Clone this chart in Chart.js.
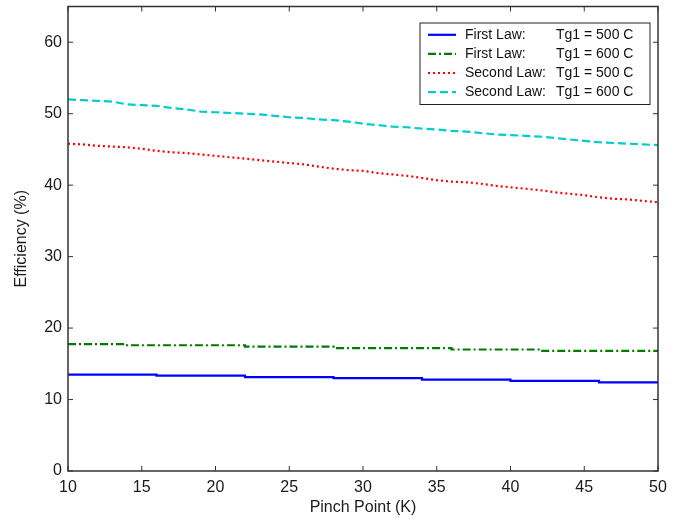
<!DOCTYPE html>
<html lang="en">
<head>
    <meta charset="UTF-8">
    <title>Efficiency vs Pinch Point</title>
    <script src="https://cdn.jsdelivr.net/npm/chart.js"></script>
    <style>
        html, body { margin: 0; padding: 0; background: #fff; }
    </style>
</head>
<body>
    <canvas id="effChart" width="681" height="521"></canvas>

    <script>
        // pinch point (K)
        const pinchPoint = [10, 11, 12, 13, 14, 15, 16, 17, 18, 19, 20, 21, 22, 23, 24, 25, 26, 27, 28, 29, 30,
                            31, 32, 33, 34, 35, 36, 37, 38, 39, 40, 41, 42, 43, 44, 45, 46, 47, 48, 49, 50];

        // efficiency (%) for each series
        const firstLaw500 = [13.5, 13.5, 13.5, 13.5, 13.5, 13.5, 13.35, 13.35, 13.35, 13.35, 13.35, 13.35,
                             13.15, 13.15, 13.15, 13.15, 13.15, 13.15, 13.0, 13.0, 13.0, 13.0, 13.0, 13.0,
                             12.8, 12.8, 12.8, 12.8, 12.8, 12.8, 12.6, 12.6, 12.6, 12.6, 12.6, 12.6,
                             12.4, 12.4, 12.4, 12.4, 12.4];
        const firstLaw600 = [17.75, 17.75, 17.75, 17.75, 17.6, 17.6, 17.6, 17.6, 17.6, 17.6, 17.6, 17.6,
                             17.4, 17.4, 17.4, 17.4, 17.4, 17.4, 17.2, 17.2, 17.2, 17.2, 17.2, 17.2, 17.2, 17.2,
                             17.0, 17.0, 17.0, 17.0, 17.0, 17.0, 16.8, 16.8, 16.8, 16.8, 16.8, 16.8, 16.8, 16.8, 16.8];
        const secondLaw500 = [45.8, 45.7, 45.5, 45.4, 45.3, 45.1, 44.8, 44.6, 44.5, 44.3, 44.1, 43.9, 43.7, 43.5,
                              43.3, 43.1, 42.9, 42.6, 42.3, 42.1, 42.0, 41.7, 41.5, 41.3, 41.0, 40.7, 40.5, 40.4,
                              40.2, 39.9, 39.7, 39.5, 39.3, 39.0, 38.8, 38.6, 38.3, 38.1, 38.0, 37.8, 37.6];
        const secondLaw600 = [52.0, 51.9, 51.8, 51.7, 51.3, 51.2, 51.1, 50.8, 50.6, 50.3, 50.2, 50.1, 50.0, 49.9,
                              49.7, 49.5, 49.4, 49.2, 49.1, 48.9, 48.6, 48.4, 48.2, 48.1, 47.9, 47.8, 47.6, 47.5,
                              47.3, 47.1, 47.0, 46.9, 46.8, 46.6, 46.4, 46.2, 46.0, 45.9, 45.8, 45.7, 45.6];

        const xTicks = [10, 15, 20, 25, 30, 35, 40, 45, 50];
        const yTicks = [0, 10, 20, 30, 40, 50, 60];

        const legendLeft = ['First Law:', 'First Law:', 'Second Law:', 'Second Law:'];
        const legendRight = ['Tg1 = 500 C', 'Tg1 = 600 C', 'Tg1 = 500 C', 'Tg1 = 600 C'];

        const fontFamily = '"Liberation Sans", Arial, sans-serif';

        function toPoints(ys) {
            return ys.map(function(y, i) { return { x: pinchPoint[i], y: y }; });
        }

        // box around the plot + inward tick marks (matlab style)
        const frameTicks = {
            id: 'frameTicks',
            afterDraw(chart) {
                const ctx = chart.ctx;
                const a = chart.chartArea;
                const xs = chart.scales.x, ys = chart.scales.y;
                const len = 5;
                ctx.save();
                ctx.strokeStyle = '#333';
                ctx.lineWidth = 1.5;
                ctx.strokeRect(a.left, a.top, a.right - a.left, a.bottom - a.top);
                ctx.lineWidth = 1;
                ctx.beginPath();
                xTicks.forEach(function(v) {
                    const px = xs.getPixelForValue(v);
                    ctx.moveTo(px, a.bottom); ctx.lineTo(px, a.bottom - len);
                    ctx.moveTo(px, a.top); ctx.lineTo(px, a.top + len);
                });
                yTicks.forEach(function(v) {
                    const py = ys.getPixelForValue(v);
                    ctx.moveTo(a.left, py); ctx.lineTo(a.left + len, py);
                    ctx.moveTo(a.right, py); ctx.lineTo(a.right - len, py);
                });
                ctx.stroke();
                ctx.restore();
            }
        };

        // legend inside the plot, upper right
        const insideLegend = {
            id: 'insideLegend',
            afterDraw(chart) {
                const ctx = chart.ctx;
                const a = chart.chartArea;
                const right = a.right - 8, top = a.top + 16.5;
                const w = 230, h = 81.5;
                const left = right - w;
                ctx.save();
                ctx.fillStyle = '#fff';
                ctx.fillRect(left, top, w, h);
                ctx.strokeStyle = '#222';
                ctx.lineWidth = 1;
                ctx.strokeRect(left, top, w, h);
                ctx.font = '14px ' + fontFamily;
                ctx.textBaseline = 'middle';
                ctx.fillStyle = '#111';
                chart.data.datasets.forEach(function(ds, i) {
                    const cy = top + 11.8 + i * 19.1;
                    ctx.save();
                    ctx.strokeStyle = ds.borderColor;
                    ctx.lineWidth = ds.borderWidth;
                    ctx.setLineDash(ds.borderDash || []);
                    ctx.beginPath();
                    ctx.moveTo(left + 8, cy);
                    ctx.lineTo(left + 36, cy);
                    ctx.stroke();
                    ctx.restore();
                    ctx.fillText(legendLeft[i], left + 45, cy);
                    ctx.fillText(legendRight[i], left + 136, cy);
                });
                ctx.restore();
            }
        };

        const data = {
            datasets: [
                {
                    label: 'First Law: Tg1 = 500 C',
                    data: toPoints(firstLaw500),
                    borderColor: '#0000ff',
                    borderWidth: 2.2,
                    stepped: 'before'
                },
                {
                    label: 'First Law: Tg1 = 600 C',
                    data: toPoints(firstLaw600),
                    borderColor: '#007a00',
                    borderWidth: 2.2,
                    borderDash: [8, 3, 2, 3],
                    stepped: 'before'
                },
                {
                    label: 'Second Law: Tg1 = 500 C',
                    data: toPoints(secondLaw500),
                    borderColor: '#ff0000',
                    borderWidth: 2.2,
                    borderDash: [2, 3]
                },
                {
                    label: 'Second Law: Tg1 = 600 C',
                    data: toPoints(secondLaw600),
                    borderColor: '#00cccc',
                    borderWidth: 2.2,
                    borderDash: [8, 4]
                }
            ]
        };

        const config = {
            type: 'line',
            data: data,
            plugins: [frameTicks, insideLegend],
            options: {
                responsive: false,
                animation: false,
                elements: { point: { radius: 0 }, line: { tension: 0, fill: false } },
                layout: { padding: { top: 6.5, right: 23, left: 0, bottom: 0 } },
                plugins: {
                    legend: { display: false },
                    tooltip: { enabled: false }
                },
                scales: {
                    x: {
                        type: 'linear',
                        min: 10,
                        max: 50,
                        afterBuildTicks: function(scale) {
                            scale.ticks = xTicks.map(function(v) { return { value: v }; });
                        },
                        afterFit: function(scale) {
                            scale.height = 50;
                            scale.paddingLeft = 0;
                            scale.paddingRight = 0;
                        },
                        grid: { display: false, drawTicks: false },
                        border: { display: false },
                        ticks: {
                            padding: 7,
                            maxRotation: 0,
                            color: '#1a1a1a',
                            font: { family: fontFamily, size: 16 }
                        },
                        title: {
                            display: true,
                            text: 'Pinch Point (K)',
                            color: '#1a1a1a',
                            font: { family: fontFamily, size: 16 },
                            padding: { top: 0, bottom: 3.5 }
                        }
                    },
                    y: {
                        min: 0,
                        max: 65,
                        afterBuildTicks: function(scale) {
                            scale.ticks = yTicks.map(function(v) { return { value: v }; });
                        },
                        afterFit: function(scale) {
                            scale.width = 68;
                            scale.paddingTop = 0;
                            scale.paddingBottom = 0;
                        },
                        grid: { display: false, drawTicks: false },
                        border: { display: false },
                        ticks: {
                            padding: 6,
                            color: '#1a1a1a',
                            font: { family: fontFamily, size: 16 }
                        },
                        title: {
                            display: true,
                            text: 'Efficiency (%)',
                            color: '#1a1a1a',
                            font: { family: fontFamily, size: 16 },
                            padding: { top: 11.5, bottom: 0 }
                        }
                    }
                }
            }
        };

        new Chart(document.getElementById('effChart').getContext('2d'), config);
    </script>
</body>
</html>
